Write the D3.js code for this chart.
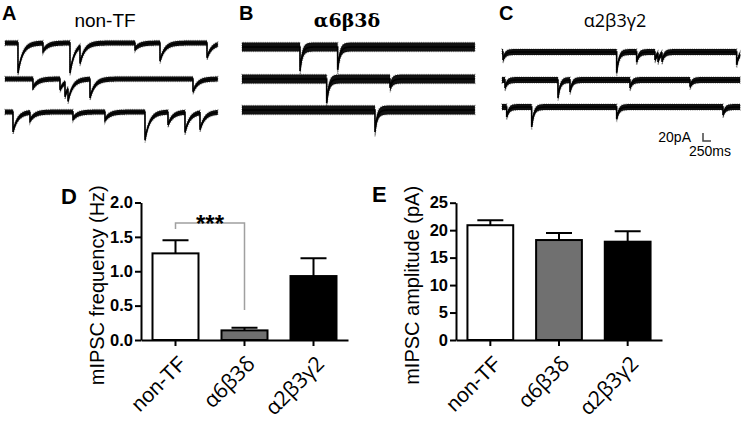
<!DOCTYPE html>
<html>
<head>
<meta charset="utf-8">
<script src="https://cdn.jsdelivr.net/npm/d3@7"></script>
<style>
  body { margin: 0; background: #fff; }
  svg { display: block; }
  text { font-family: Arial, "Liberation Sans", sans-serif; fill: #000; }
</style>
</head>
<body>
<svg id="fig" width="745" height="421"></svg>
<script>
// --- data ---
const groups = ['non-TF', 'α6β3δ', 'α2β3γ2'];
const freqMean = [1.26, 0.14, 0.93];
const freqSem = [0.19, 0.04, 0.26];
const ampMean = [20.9, 18.2, 17.9];
const ampSem = [0.9, 1.3, 1.9];
const freqTicks = [0, 0.5, 1.0, 1.5, 2.0];
const ampTicks = [0, 5, 10, 15, 20, 25];
const barFills = ['#ffffff', '#707070', '#000000'];

// example sweeps: mIPSC events as [time ms, amplitude pA], three sweeps per cell
const sweepDurations = [6650, 7280, 7440];
const eventsNonTF = [
  [[406, 75], [1188, 20], [2031, 75], [2344, 42], [4063, 15], [4844, 45], [6313, 37]],
  [[875, 22], [1719, 27], [1875, 35], [1969, 32], [2656, 47], [5875, 32]],
  [[250, 50], [781, 20], [2125, 17], [3125, 20], [4375, 70], [5094, 32], [5625, 50], [6094, 42]]
];
const eventsA6 = [
  [[1813, 60], [2990, 57]],
  [[2647, 60], [4625, 22]],
  [[4156, 55]]
];
const eventsA2 = [
  [[31, 20], [3584, 52], [4209, 25], [4781, 20], [4875, 20], [5000, 20], [7334, 32]],
  [[94, 20], [1750, 45], [2125, 30], [4000, 20], [5875, 17]],
  [[147, 25], [928, 50], [3584, 30], [6906, 20]]
];
const scaleBarPA = 20;
const scaleBarMS = 250;

const svg = d3.select('#fig');
const msPerPx = 31.25;
const pAPerPx = 2.5;

// --- trace panels ---
function sweepValues(events, duration, tau) {
  let times = d3.range(0, duration + 1, 6);
  events.forEach(e => { times.push(e[0] - 1, e[0]); });
  times = times.filter(t => t >= 0 && t <= duration).sort((a, b) => a - b);
  return times.map(t => {
    let v = 0;
    events.forEach(e => { if (t >= e[0]) v -= e[1] * Math.exp(-(t - e[0]) / tau); });
    return [t, v];
  });
}

function drawSweeps(cfg) {
  const g = svg.append('g');
  const x = d3.scaleLinear().domain([0, cfg.duration]).range([cfg.x0, cfg.x0 + cfg.duration / msPerPx]);
  cfg.events.forEach((ev, i) => {
    const y = d3.scaleLinear().domain([0, -100]).range([cfg.rows[i], cfg.rows[i] + 100 / pAPerPx]);
    const vals = sweepValues(ev, cfg.duration, cfg.tau);
    const line = d3.line().x(d => x(d[0])).y(d => y(d[1]));
    // noise band around the current
    const band = d3.area().x(d => x(d[0]))
      .y0(d => y(d[1]) - cfg.noise / 2).y1(d => y(d[1]) + cfg.noise / 2);
    g.append('path').attr('d', band(vals)).attr('fill', '#111');
    g.append('path').attr('d', band(vals)).attr('fill', 'none')
      .attr('stroke', '#000').attr('stroke-opacity', 0.35)
      .attr('stroke-width', 1.6).attr('stroke-dasharray', '1 1.2');
    g.append('path').attr('d', line(vals)).attr('fill', 'none')
      .attr('stroke', '#000').attr('stroke-width', 1.6);
  });
  svg.append('text').attr('x', cfg.lx).attr('y', 20)
    .style('font-size', '20px').style('font-weight', 'bold').text(cfg.letter);
  svg.append('text').attr('x', cfg.tx).attr('y', 27).attr('text-anchor', 'middle')
    .style('font-size', cfg.tsize).style('font-weight', cfg.tweight)
    .style('font-family', cfg.tfont).text(cfg.title);
}

drawSweeps({ letter: 'A', lx: 2, title: groups[0], tx: 105, tsize: '19px', tweight: 'normal',
  tfont: 'Arial, "Liberation Sans", sans-serif',
  duration: sweepDurations[0], x0: 5, rows: [43, 79, 112], events: eventsNonTF, tau: 150, noise: 5 });
drawSweeps({ letter: 'B', lx: 239, title: groups[1], tx: 347, tsize: '19px', tweight: 'bold',
  tfont: '"DejaVu Serif", serif',
  duration: sweepDurations[1], x0: 242, rows: [47, 79, 110], events: eventsA6, tau: 70, noise: 9 });
drawSweeps({ letter: 'C', lx: 499, title: groups[2], tx: 615, tsize: '18px', tweight: 'normal',
  tfont: '"Open Sans", "Noto Sans", sans-serif',
  duration: sweepDurations[2], x0: 502, rows: [52, 80, 107], events: eventsA2, tau: 70, noise: 6 });

// scale bar
const sbx = 703, sby = 141;
svg.append('path')
  .attr('d', `M${sbx},${sby - scaleBarPA / pAPerPx}V${sby}H${sbx + scaleBarMS / msPerPx}`)
  .attr('fill', 'none').attr('stroke', '#444').attr('stroke-width', 1.5);
svg.append('text').attr('x', 691).attr('y', 142).attr('text-anchor', 'end')
  .style('font-size', '14px').text(scaleBarPA + 'pA');
svg.append('text').attr('x', 731).attr('y', 156).attr('text-anchor', 'end')
  .style('font-size', '14px').text(scaleBarMS + 'ms');

// --- bar panels ---
function drawBars(cfg) {
  const g = svg.append('g');
  const x = d3.scaleBand().domain(groups).range([cfg.x0, cfg.x1]).paddingInner(1 / 3).paddingOuter(1 / 6);
  const y = d3.scaleLinear().domain([0, cfg.ticks[cfg.ticks.length - 1]]).range([340, cfg.yTop]);

  const ya = g.append('g').attr('transform', `translate(${cfg.x0},0)`)
    .call(d3.axisLeft(y).tickValues(cfg.ticks).tickFormat(cfg.fmt).tickSize(6).tickSizeOuter(0).tickPadding(2));
  const xa = g.append('g').attr('transform', 'translate(0,340)')
    .call(d3.axisBottom(x).tickSize(6).tickSizeOuter(0));
  [ya, xa].forEach(a => {
    a.select('.domain').attr('stroke', '#000').attr('stroke-width', 2);
    a.selectAll('.tick line').attr('stroke', '#000').attr('stroke-width', 2);
  });
  ya.selectAll('.tick text').style('font-size', '16.5px').style('font-weight', 'bold')
    .style('font-family', 'Arial, "Liberation Sans", sans-serif').attr('fill', '#000');
  xa.selectAll('.tick text').remove();

  // error bars (mean + SEM)
  g.selectAll('.err').data(groups).enter().append('path')
    .attr('d', (d, i) => {
      const cx = x(d) + x.bandwidth() / 2, top = y(cfg.mean[i] + cfg.sem[i]);
      return `M${cx},${y(cfg.mean[i])}V${top}M${cx - 13},${top}H${cx + 13}`;
    })
    .attr('stroke', '#000').attr('stroke-width', 2).attr('fill', 'none');
  g.selectAll('.bar').data(groups).enter().append('rect')
    .attr('x', d => x(d)).attr('width', x.bandwidth())
    .attr('y', (d, i) => y(cfg.mean[i])).attr('height', (d, i) => 340 - y(cfg.mean[i]))
    .attr('fill', (d, i) => barFills[i]).attr('stroke', '#000').attr('stroke-width', 2);

  // rotated category labels
  groups.forEach((d, i) => {
    const cx = x(d) + x.bandwidth() / 2;
    g.append('text')
      .attr('transform', `translate(${cx + 12},${365}) rotate(-45)`)
      .attr('text-anchor', 'end')
      .style('font-size', '21px')
      .style('font-family', i === 0 ? 'Arial, "Liberation Sans", sans-serif' : '"Open Sans", "Noto Sans", sans-serif')
      .text(d);
  });

  g.append('text')
    .attr('transform', `translate(${cfg.labelX},${(340 + cfg.yTop) / 2 + 14}) rotate(-90)`)
    .attr('text-anchor', 'middle').style('font-size', '20px').text(cfg.label);
  svg.append('text').attr('x', cfg.lx).attr('y', cfg.ly)
    .style('font-size', '22px').style('font-weight', 'bold').text(cfg.letter);
  return { x, y, g };
}

const pD = drawBars({ letter: 'D', lx: 61, ly: 204, x0: 141, x1: 348, yTop: 202.5,
  ticks: freqTicks, fmt: d3.format('.1f'), mean: freqMean, sem: freqSem,
  label: 'mIPSC frequency (Hz)', labelX: 104 });
drawBars({ letter: 'E', lx: 372, ly: 202, x0: 456, x1: 662, yTop: 202.7,
  ticks: ampTicks, fmt: d3.format('d'), mean: ampMean, sem: ampSem,
  label: 'mIPSC amplitude (pA)', labelX: 419 });

// significance bracket non-TF vs α6β3δ
const bx0 = pD.x(groups[0]) + pD.x.bandwidth() / 2;
const bx1 = pD.x(groups[1]) + pD.x.bandwidth() / 2;
pD.g.append('path')
  .attr('d', `M${bx0},229V223H${bx1}V310`)
  .attr('fill', 'none').attr('stroke', '#a0a0a0').attr('stroke-width', 1.5);
pD.g.append('text').attr('x', (bx0 + bx1) / 2).attr('y', 232).attr('text-anchor', 'middle')
  .style('font-size', '24px').style('font-weight', 'bold').text('***');
</script>
</body>
</html>
